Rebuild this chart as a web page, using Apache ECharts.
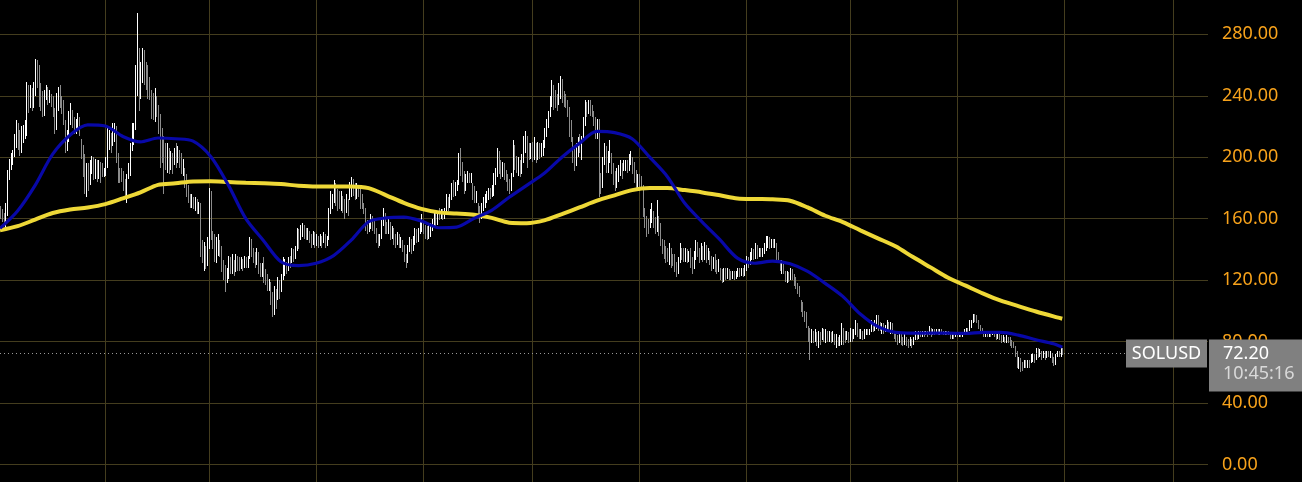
<!DOCTYPE html>
<html>
<head>
<meta charset="utf-8">
<script src="https://cdn.jsdelivr.net/npm/echarts@6.0.0/dist/echarts.min.js"></script>
<style>
html,body{margin:0;padding:0;background:#000;}
#chart{width:1302px;height:482px;}
</style>
</head>
<body>
<div id="chart"></div>
<script>
// ---------------- DATA ----------------
const symbol = 'SOLUSD';
const lastTime = '10:45:16';
const firstDate = '2024-11-02';      // date of first daily candle
const axisStartDate = '2024-11-02';
const axisEndDate = '2026-09-21';
const firstOpen = 166;

// daily closes (one per day from firstDate)
const closes = [
164,162,160,165,188,196,198,201,210,218,
212,208,214,216,219,244,238,242,236,245,
258,255,240,235,230,240,242,238,240,236,
230,220,238,240,236,235,224,208,212,225,
229,222,218,221,224,218,205,193,186,191,
184,194,197,190,195,191,196,192,189,189,
194,210,213,212,216,220,201,190,189,187,
183,178,186,190,206,214,219,252,260,245,
255,260,256,252,245,240,232,230,236,231,
225,212,205,202,198,203,196,200,197,202,
198,204,200,192,195,186,178,172,170,173,
168,171,166,168,140,135,138,130,142,178,
148,145,138,141,144,139,128,126,122,126,
133,127,130,126,134,130,128,132,131,134,
130,134,146,140,136,131,138,128,125,127,
124,119,116,118,109,105,107,106,118,113,
121,126,128,127,132,131,139,137,140,151,
149,152,153,150,148,151,147,145,149,144,
147,145,148,146,149,145,147,164,171,173,
180,175,174,170,174,168,166,171,169,180,
184,179,176,180,178,172,168,166,155,153,
156,158,157,153,148,144,148,158,162,156,
152,157,150,152,147,145,148,144,146,141,
134,131,140,144,142,146,150,147,152,155,
157,152,151,149,152,155,157,162,160,163,
162,164,162,164,172,168,174,178,177,180,
183,198,196,186,180,186,187,185,186,176,
173,174,165,162,167,170,173,175,177,176,
180,186,191,201,195,192,194,189,186,184,
180,188,205,200,195,197,190,200,208,212,
205,203,206,203,206,201,205,204,205,207,
215,222,228,236,245,240,238,235,245,248,
242,238,237,230,220,214,203,196,206,209,
207,210,222,233,230,234,232,228,226,219,
222,183,182,198,204,194,200,202,195,186,
183,188,191,194,191,194,196,193,200,201,
196,186,185,187,183,181,168,159,156,154,
160,164,158,153,160,152,144,140,139,138,
136,140,133,132,129,126,133,138,137,136,
138,134,137,132,129,136,142,138,135,139,
137,140,136,139,134,130,132,128,126,131,
124,121,125,123,126,124,123,125,122,124,
126,124,127,125,128,133,131,136,138,136,
141,138,140,137,139,142,145,147,144,145,
143,144,136,133,128,130,126,122,124,121,
126,123,120,117,115,112,103,101,98,92,
85,78,85,82,84,80,84,82,86,83,
85,83,86,81,84,80,82,79,81,88,
84,83,85,81,86,84,85,90,87,85,
86,83,86,87,85,87,90,89,92,95,
91,88,90,88,89,91,88,90,86,84,
82,80,84,81,79,83,80,78,81,79,
82,85,83,86,84,86,84,86,85,88,
85,87,86,87,85,87,86,85,87,86,
85,84,85,83,85,84,86,84,85,86,
88,87,92,93,96,95,93,90,88,87,
85,86,84,86,85,86,84,83,85,82,
81,82,80,82,81,79,78,77,72,66,
67,64,62,65,64,66,65,68,70,69,
73,72,74,71,73,70,73,71,72,68,
66,71,72,71,74,72.2
];

const highs = [
168,166,164,170,192,199,203,205,215,224,
222,218,220,221,224,249,247,247,245,249,
264,263,260,248,243,244,247,246,244,241,
240,232,242,246,247,240,237,224,218,230,
235,231,226,225,229,226,212,208,202,196,
196,198,201,200,199,198,198,197,196,193,
200,219,218,216,222,222,220,203,193,193,
191,186,189,196,209,222,222,260,294,271,
262,271,270,262,260,252,244,242,245,240,
234,228,219,214,209,209,206,204,203,206,
209,207,205,203,199,193,189,182,176,176,
174,174,173,171,170,146,145,142,148,180,
178,152,150,148,150,146,142,133,130,128,
136,135,137,133,137,136,135,135,134,136,
135,136,148,147,141,138,141,138,131,131,
135,127,124,121,119,112,116,114,122,120,
124,135,134,132,135,136,141,140,142,154,
153,156,157,156,154,154,152,150,152,151,
150,149,150,149,151,150,149,167,178,176,
185,183,179,178,178,175,173,176,173,184,
187,186,183,183,182,180,176,170,167,159,
159,163,162,160,154,150,150,160,167,164,
158,161,158,155,154,150,151,150,148,146,
143,137,143,148,147,149,154,153,154,158,
163,158,156,155,157,157,160,165,164,165,
167,166,166,167,176,174,176,183,185,184,
185,203,206,197,191,189,191,190,190,183,
181,178,170,168,170,174,176,178,180,180,
182,190,193,206,204,198,197,196,192,189,
186,190,211,208,201,200,198,202,214,217,
214,209,209,210,213,209,210,209,209,211,
219,225,230,240,250,247,244,241,248,253,
251,243,241,237,233,224,213,206,209,213,
215,214,226,237,236,237,237,234,230,226,
225,225,190,200,209,207,204,211,203,196,
191,193,195,198,196,198,198,198,202,204,
200,197,192,189,189,188,182,167,162,160,
166,170,165,161,172,162,157,147,146,142,
141,144,141,137,137,132,135,144,141,141,
141,140,139,141,135,139,146,145,141,144,
142,145,143,141,139,136,135,137,133,134,
128,127,128,128,128,127,126,126,126,126,
128,128,128,128,130,136,135,138,141,140,
144,143,141,141,141,144,149,149,148,147,
147,147,144,138,133,133,131,126,126,125,
128,127,124,122,118,116,107,106,100,99,
90,89,88,87,88,86,87,86,89,88,
88,87,87,86,87,85,85,83,84,92,
89,87,87,86,89,88,88,94,92,88,
88,87,88,88,88,88,94,93,94,97,
97,93,92,92,91,94,93,93,92,87,
87,84,86,86,83,85,83,82,83,82,
83,87,86,87,87,87,87,87,87,90,
89,88,88,88,88,88,88,87,87,87,
87,86,86,86,86,86,86,86,86,88,
89,89,94,94,98,98,97,94,91,89,
87,87,87,87,87,87,87,87,86,85,
84,84,83,84,83,83,81,80,77,74,
70,69,67,68,68,68,68,72,72,72,
76,76,75,74,74,74,74,74,74,72,
70,72,74,74,76,76
];

const lows = [
160,158,155,154,162,185,192,195,200,206,
205,201,203,209,212,214,229,232,230,232,
240,245,233,230,226,227,237,234,235,233,
226,215,218,230,232,228,221,203,204,210,
221,219,215,215,217,214,199,187,176,174,
178,182,189,185,186,184,186,183,187,187,
188,193,205,203,207,210,196,183,183,184,
178,174,170,186,188,204,208,218,240,230,
238,248,247,244,238,237,225,224,223,226,
215,193,196,176,192,190,189,192,189,195,
193,196,193,189,188,180,174,170,167,167,
166,165,163,163,135,131,126,127,129,140,
146,140,132,131,136,135,125,120,112,118,
121,124,124,123,125,126,126,127,126,128,
128,128,134,135,131,128,130,124,122,122,
118,117,113,113,104,96,97,101,107,108,
112,120,123,124,126,128,131,132,134,139,
140,146,148,147,146,146,144,141,143,141,
142,141,142,141,144,141,142,146,163,166,
170,168,165,166,165,164,160,164,162,172,
174,175,172,173,174,166,166,163,152,150,
151,153,152,150,144,141,142,147,155,150,
150,150,146,147,143,141,143,141,141,138,
132,128,131,138,137,139,143,144,145,150,
151,150,147,146,147,148,152,154,155,156,
159,160,159,160,163,165,167,172,174,175,
178,182,188,184,176,178,183,183,183,172,
170,170,162,157,160,165,167,170,172,173,
174,175,182,187,189,186,187,185,184,178,
176,178,187,192,190,188,187,189,196,203,
193,198,199,197,198,196,198,199,200,201,
206,213,219,226,233,231,232,230,234,238,
235,233,232,226,213,210,196,191,194,200,
203,198,211,220,226,228,227,226,220,212,
212,174,176,180,195,190,190,196,189,182,
178,180,184,188,186,191,191,190,191,195,
189,183,178,180,178,180,161,154,148,150,
154,157,154,150,151,149,142,137,134,131,
132,130,128,129,125,122,124,131,133,132,
132,131,132,128,124,127,133,135,131,133,
132,133,131,133,130,126,127,125,124,125,
120,118,119,120,121,120,120,121,120,121,
122,122,123,122,123,126,128,130,133,133,
134,134,135,135,135,137,139,141,140,141,
141,141,133,131,126,124,124,119,118,119,
120,120,116,114,111,109,99,96,93,89,
80,68,79,79,80,77,76,78,81,80,
79,80,80,79,80,78,76,77,77,78,
78,79,81,79,80,80,82,84,83,82,
82,81,82,84,84,84,86,86,87,88,
87,87,85,85,86,86,86,85,85,82,
80,78,79,78,77,78,77,76,77,76,
78,81,81,82,83,83,83,84,83,84,
83,84,84,85,84,84,85,84,84,84,
84,82,82,82,83,83,83,83,83,84,
85,85,87,89,92,93,92,88,87,85,
83,83,83,83,83,84,83,81,82,81,
79,80,79,79,79,77,76,76,70,63,
62,60,61,63,63,63,63,66,67,66,
68,69,70,68,69,68,69,70,69,66,
64,65,70,70,70,71
];

// moving averages at these candle indexes
const maSampleIdx = [
0,10,20,30,40,50,60,70,80,90,
100,110,120,130,140,150,160,170,180,190,
200,210,220,230,240,250,260,270,280,290,
300,310,320,330,340,350,360,370,380,390,
400,410,420,430,440,450,460,470,480,490,
500,510,520,530,540,550,560,570,580,590,
600,605
];
const ma50 = [
153.7,165,181.7,202,214.5,221,220.3,213.5,210,212.5,
212,210.5,200.5,182,160,145.8,132,129.5,131,136,
146,158,160.5,161,158.5,154.1,154.5,160.2,165.4,173.9,
181.7,189.5,200,209,216.8,216,212,200,187.5,170,
157.8,146.3,134.3,131,132.4,130.7,125.7,117.9,109.4,97.9,
89.7,86,85.5,85.5,85.5,85.3,86,86,84.2,81.2,
78.6,76.4
];
const ma200 = [
152.4,155.1,159.4,163.7,166,167.3,169.5,173.2,177.1,182,
183,184.2,184.3,183.8,183.3,183,182.5,181.5,181,181,
181,179.9,175.2,170.3,166.4,164.1,163.4,162.5,160.5,157.4,
157.1,158.9,163,167.3,171.7,175.2,178.6,179.9,179.9,178.6,
177.1,175.2,173.2,172.8,172.6,171.7,167.3,161.9,157.8,152.4,
147.2,142,135,128.3,121.6,116.4,111.2,106.6,103.1,99.6,
96.4,94.9
];

// vertical grid dates (every two months)
const gridDates = ['2025-01-01','2025-03-01','2025-05-01','2025-07-01','2025-09-01',
  '2025-11-01','2026-01-01','2026-03-01','2026-05-01','2026-07-01','2026-09-01'];

// ---------------- STYLE ----------------
const BG = '#000000';
const GRID = '#443d1e';
const UP = '#ffffff';
const DOWN = '#8c8c8c';
const LABEL = '#f7a21b';
const FONT = 'Noto Sans';
const DAY = 86400000;

const t0 = Date.parse(firstDate);
const candleData = closes.map((c, i) => [t0 + i * DAY, i === 0 ? firstOpen : closes[i - 1], c, lows[i], highs[i]]);
const ma50Data = maSampleIdx.map((k, j) => [t0 + k * DAY, ma50[j]]);
const ma200Data = maSampleIdx.map((k, j) => [t0 + k * DAY, ma200[j]]);
const lastClose = closes[closes.length - 1];
const xMin = Date.parse(axisStartDate);
const xMax = Date.parse(axisEndDate);

const chart = echarts.init(document.getElementById('chart'), null, {renderer: 'canvas'});

chart.setOption({
  backgroundColor: BG,
  animation: false,
  grid: {left: 0, right: 94, top: -27.16, bottom: -43.96, containLabel: false, outerBoundsMode: 'none'},
  xAxis: {
    type: 'time', min: xMin, max: xMax,
    axisLine: {show: false},
    axisLabel: {show: false},
    axisTick: {show: false, customValues: gridDates.map(d => Date.parse(d))},
    splitLine: {show: true, lineStyle: {color: GRID, width: 1}}
  },
  yAxis: {
    type: 'value', position: 'right', min: -40, max: 320, interval: 40, scale: false,
    axisLine: {show: false}, axisTick: {show: false},
    splitLine: {show: true, lineStyle: {color: GRID, width: 1}},
    axisLabel: {color: LABEL, fontSize: 18, fontFamily: FONT, margin: 14,
      formatter: v => v.toFixed(2)}
  },
  series: [
    {
      type: 'custom', name: symbol, data: candleData, clip: false, silent: true,
      encode: {x: 0, y: [1, 2, 3, 4]},
      renderItem: (params, api) => {
        const t = api.value(0);
        const pLo = api.coord([t, api.value(3)]);
        const pHi = api.coord([t, api.value(4)]);
        const x = Math.round(pLo[0]) + 0.5;
        const up = api.value(2) >= api.value(1);
        return {
          type: 'line',
          shape: {x1: x, y1: Math.round(pLo[1]), x2: x, y2: Math.round(pHi[1])},
          style: {stroke: up ? UP : DOWN, lineWidth: 1}
        };
      },
      z: 1
    },
    {
      type: 'line', name: 'MA200', data: ma200Data, smooth: 0.3, showSymbol: false, silent: true,
      lineStyle: {color: '#eed837', width: 4}, z: 3
    },
    {
      type: 'line', name: 'MA50', data: ma50Data, smooth: 0.3, showSymbol: false, silent: true,
      lineStyle: {color: '#0808a8', width: 3.2}, z: 4,
      markLine: {
        silent: true, symbol: ['none', 'none'], animation: false,
        label: {show: false},
        lineStyle: {color: '#9a9a9a', type: [1, 3], width: 1},
        data: [{yAxis: lastClose}]
      }
    }
  ]
});

// price tag boxes anchored to the last close
const ly = chart.convertToPixel({yAxisIndex: 0}, lastClose);
const gx = chart.convertToPixel({xAxisIndex: 0}, xMax);
chart.setOption({
  graphic: [
    {type: 'rect', z: 100, shape: {x: gx - 82, y: ly - 14, width: 81, height: 28}, style: {fill: '#808080'}},
    {type: 'text', z: 101, x: gx - 41.5, y: ly, style: {text: symbol, fill: '#ffffff', fontSize: 18, fontFamily: FONT, align: 'center', verticalAlign: 'middle'}},
    {type: 'rect', z: 100, shape: {x: gx + 1, y: ly - 14, width: 100, height: 52}, style: {fill: '#808080'}},
    {type: 'text', z: 101, x: gx + 15, y: ly + 0.5, style: {text: lastClose.toFixed(2), fill: '#ffffff', fontSize: 18, fontFamily: FONT, align: 'left', verticalAlign: 'middle'}},
    {type: 'text', z: 101, x: gx + 15, y: ly + 20.5, style: {text: lastTime, fill: '#d9d9d9', fontSize: 18, fontFamily: FONT, align: 'left', verticalAlign: 'middle'}}
  ]
});
</script>
</body>
</html>
